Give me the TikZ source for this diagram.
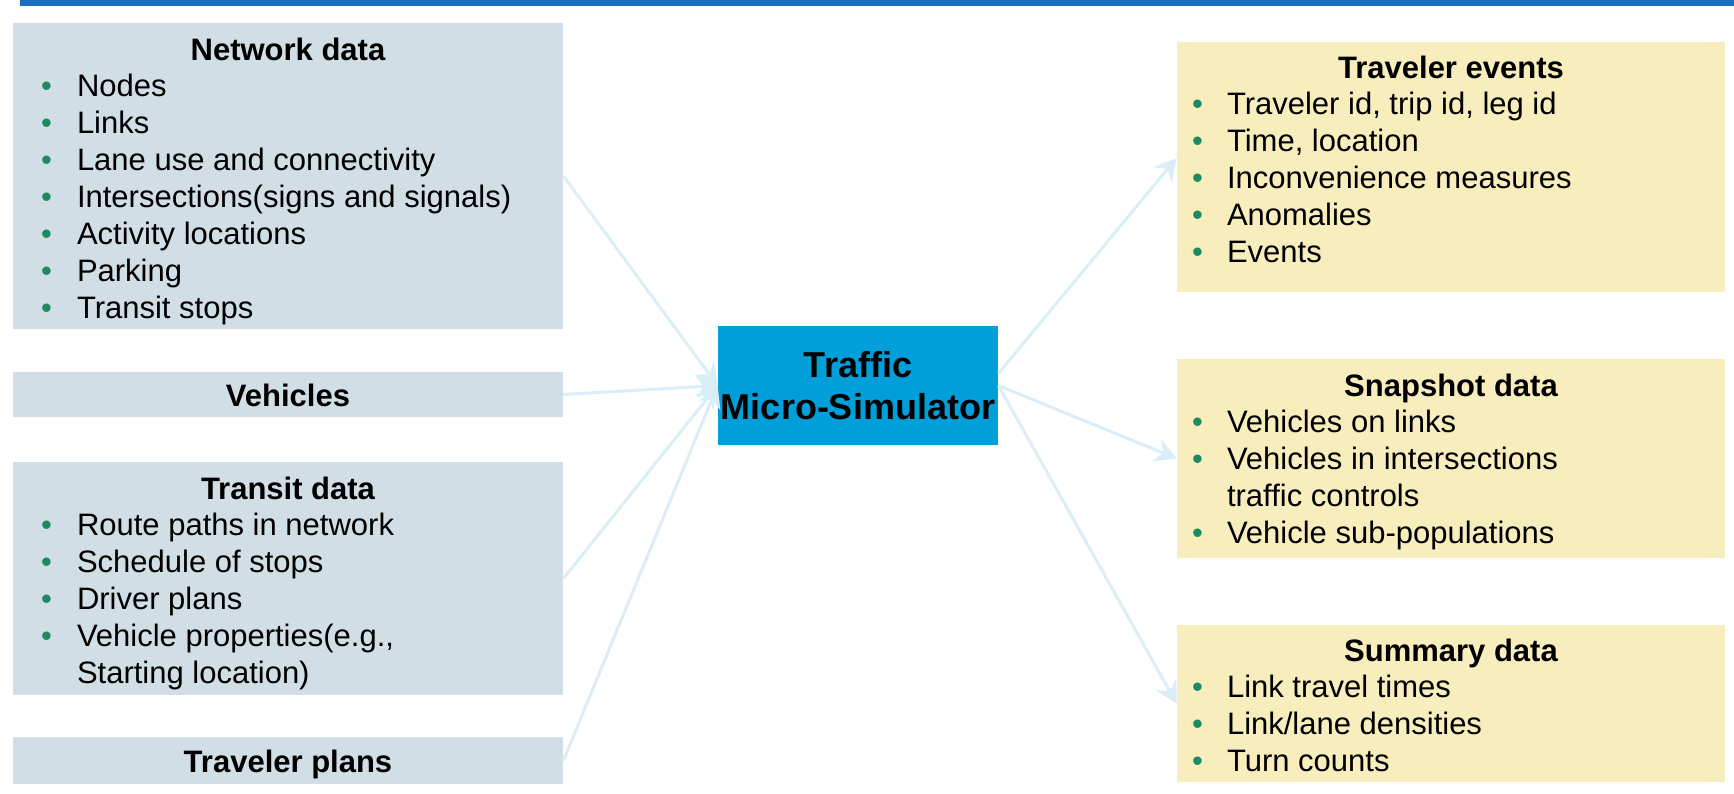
\documentclass[tikz,border=0pt]{standalone}
\usepackage{fontspec}
\setmainfont{Liberation Sans}
\usepackage{xcolor}
\usetikzlibrary{arrows.meta,calc,fit,positioning}

\definecolor{inblue}{HTML}{D1DEE5}
\definecolor{outyellow}{HTML}{F8EDBD}
\definecolor{simblue}{HTML}{009FDA}
\definecolor{ruleblue}{HTML}{1B6EC2}
\definecolor{flowblue}{HTML}{DAEEF8}
\definecolor{dotgreen}{HTML}{1E8A62}

\tikzset{
  inbox/.style={fill=inblue, inner sep=0pt},
  outbox/.style={fill=outyellow, inner sep=0pt},
  boxtitle/.style={font=\fontsize{15.5}{18}\selectfont\bfseries, anchor=base, inner sep=0pt},
  item/.style={font=\fontsize{15.5}{18}\selectfont, anchor=base west, inner sep=0pt},
  dot/.style={font=\fontsize{15.5}{18}\selectfont, text=dotgreen, anchor=base, inner sep=0pt},
  flow/.style={draw=flowblue, line width=1.5pt, -{Stealth[length=11pt,width=12pt,inset=4pt]}},
}

\begin{document}
\begin{tikzpicture}[x=0.5pt,y=-0.5pt]
\useasboundingbox (0,0) rectangle (1734,793);

% Rule along the top
\fill[ruleblue] (20,0) rectangle (1734,5.5);

% Input boxes
\node[inbox, fit={(13,23) (563,329)}] (net) {};
\node[inbox, fit={(13,372) (563,417)}] (veh) {};
\node[inbox, fit={(13,462) (563,695)}] (tra) {};
\node[inbox, fit={(13,737) (563,784)}] (plan) {};

% Simulator
\node[fill=simblue, inner sep=0pt, fit={(718,326) (998,445)}] (sim) {};
\node[font=\fontsize{18}{21}\selectfont\bfseries, align=center] (simtext) at (sim.center) {Traffic\\Micro-Simulator};

% Output boxes
\node[outbox, fit={(1177,42) (1725,292)}] (events) {};
\node[outbox, fit={(1177,359) (1725,558)}] (snap) {};
\node[outbox, fit={(1177,625) (1725,782)}] (summ) {};

% Titles
\node[boxtitle] (nettitle) at ($(net.north)+(0,38)$) {Network data};
\node[boxtitle] (vehtitle) at ($(veh.center)+(0,12)$) {Vehicles};
\node[boxtitle] (tratitle) at ($(tra.north)+(0,38)$) {Transit data};
\node[boxtitle] (plantitle) at ($(plan.center)+(0,12)$) {Traveler plans};
\node[boxtitle] (eventstitle) at ($(events.north)+(0,37)$) {Traveler events};
\node[boxtitle] (snaptitle) at ($(snap.north)+(0,38)$) {Snapshot data};
\node[boxtitle] (summtitle) at ($(summ.north)+(0,37)$) {Summary data};

% Bullet lists, 1 = bullet, 0 = continued line
\foreach \b/\t [count=\i from 0] in {1/Nodes, 1/Links, 1/Lane use and connectivity,
    1/Intersections(signs and signals), 1/Activity locations, 1/Parking, 1/Transit stops}{
  \node[item] (net\i) at ($(net.north west)+(64,74+37*\i)$) {\t};
  \ifnum\b=1 \node[dot] (netdot\i) at ($(net.north west)+(34,74+37*\i)$) {•}; \fi
}
\foreach \b/\t [count=\i from 0] in {1/Route paths in network, 1/Schedule of stops,
    1/Driver plans, 1/{Vehicle properties(e.g.,}, 0/{Starting location)}}{
  \node[item] (tra\i) at ($(tra.north west)+(64,74+37*\i)$) {\t};
  \ifnum\b=1 \node[dot] (tradot\i) at ($(tra.north west)+(34,74+37*\i)$) {•}; \fi
}
\foreach \b/\t [count=\i from 0] in {1/{Traveler id, trip id, leg id}, 1/{Time, location},
    1/Inconvenience measures, 1/Anomalies, 1/Events}{
  \node[item] (events\i) at ($(events.north west)+(50,73+37*\i)$) {\t};
  \ifnum\b=1 \node[dot] (eventsdot\i) at ($(events.north west)+(21,73+37*\i)$) {•}; \fi
}
\foreach \b/\t [count=\i from 0] in {1/Vehicles on links, 1/Vehicles in intersections,
    0/traffic controls, 1/Vehicle sub-populations}{
  \node[item] (snap\i) at ($(snap.north west)+(50,74+37*\i)$) {\t};
  \ifnum\b=1 \node[dot] (snapdot\i) at ($(snap.north west)+(21,74+37*\i)$) {•}; \fi
}
\foreach \b/\t [count=\i from 0] in {1/Link travel times, 1/{Link/lane densities}, 1/Turn counts}{
  \node[item] (summ\i) at ($(summ.north west)+(50,73+37*\i)$) {\t};
  \ifnum\b=1 \node[dot] (summdot\i) at ($(summ.north west)+(21,73+37*\i)$) {•}; \fi
}

% Flows in
\draw[flow] (net.east) -- (sim.west);
\draw[flow] (veh.east) -- (sim.west);
\draw[flow] (tra.east) -- (sim.west);
\draw[flow] (plan.east) -- (sim.west);

% Flows out
\draw[flow] ([yshift=6pt]sim.east) -- ([yshift=4.5pt]events.west);
\draw[flow] (sim.east) -- (snap.west);
\draw[flow] (sim.east) -- (summ.west);

\end{tikzpicture}
\end{document}
